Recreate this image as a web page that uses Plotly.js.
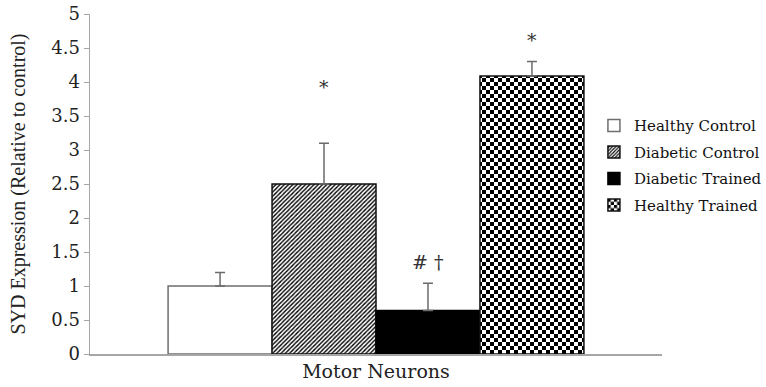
<!DOCTYPE html>
<html>
<head>
<meta charset="utf-8">
<script src="https://cdn.plot.ly/plotly-3.0.1.min.js"></script>
<style>html,body{margin:0;padding:0;background:#fff;}#chart{width:766px;height:387px;}</style>
</head>
<body>
<div id="chart"></div>
<script>
var category = ['Motor Neurons'];
var groups = ['Healthy Control', 'Diabetic Control', 'Diabetic Trained', 'Healthy Trained'];
var values = [1.0, 2.5, 0.64, 4.09];
var errorsUp = [0.2, 0.6, 0.4, 0.21];
var markText = ['', '*', '# \u2020', '*'];
var markY = [null, 3.93, 1.35, 4.62];
var yTicks = [0, 0.5, 1, 1.5, 2, 2.5, 3, 3.5, 4, 4.5, 5];

var SERIF = 'DejaVu Serif, serif';
var styles = [
  {color: '#ffffff', line: {color: '#6e6e6e', width: 1.5}},
  {color: '#ffffff', line: {color: '#111111', width: 1.5},
   pattern: {shape: '/', fgcolor: '#000000', bgcolor: '#ffffff', size: 3, solidity: 0.45}},
  {color: '#000000', line: {color: '#000000', width: 1.5}},
  {color: '#ffffff', line: {color: '#111111', width: 1.5},
   pattern: {path: 'M0,0H4V4H0Z M4,4H8V8H4Z', fgcolor: '#000000', bgcolor: '#ffffff', size: 8, solidity: 0.5}}
];

var bargap = 0.273;
var traces = groups.map(function (g, i) {
  return {
    type: 'bar', name: g, x: category, y: [values[i]], legendgroup: 'g' + i,
    marker: styles[i],
    error_y: {type: 'data', symmetric: false, array: [errorsUp[i]], arrayminus: [0],
              color: '#6b6b6b', thickness: 1.5, width: 5}
  };
});

var slot = (1 - bargap) / groups.length;
var annotations = [];
groups.forEach(function (g, i) {
  if (!markText[i]) return;
  annotations.push({
    xref: 'x', yref: 'y', x: -(1 - bargap) / 2 + (i + 0.5) * slot, y: markY[i],
    text: markText[i], showarrow: false, yanchor: 'middle',
    font: {family: SERIF, size: 19, color: '#333'}
  });
});

var layout = {
  width: 766, height: 387,
  margin: {l: 90, r: 104, t: 14, b: 33, autoexpand: false},
  paper_bgcolor: '#fff', plot_bgcolor: '#fff',
  barmode: 'group', bargap: bargap, bargroupgap: 0,
  showlegend: true,
  legend: {x: 0.881, y: 0.72, xanchor: 'left', yanchor: 'top', bgcolor: 'rgba(0,0,0,0)',
           tracegroupgap: 4, font: {family: SERIF, size: 15, color: '#111'}, itemwidth: 30},
  font: {family: SERIF, color: '#222'},
  xaxis: {showline: true, linecolor: '#a6a6a6', linewidth: 1.5, ticks: '', showgrid: false,
          tickfont: {size: 19, color: '#222'}, range: [-0.5, 0.5]},
  yaxis: {range: [0, 5], tickvals: yTicks, ticktext: yTicks.map(String), showline: true, linecolor: '#a6a6a6',
          linewidth: 1.5, ticks: 'outside', ticklen: 5, tickcolor: '#a6a6a6', showgrid: false, zeroline: false,
          tickfont: {size: 18, color: '#222'},
          title: {text: 'SYD Expression (Relative to control)',
                  font: {family: 'Liberation Serif, serif', size: 20, color: '#222'}, standoff: 20}},
  annotations: annotations
};

Plotly.newPlot('chart', traces, layout, {displayModeBar: false, staticPlot: true});
</script>
</body>
</html>
